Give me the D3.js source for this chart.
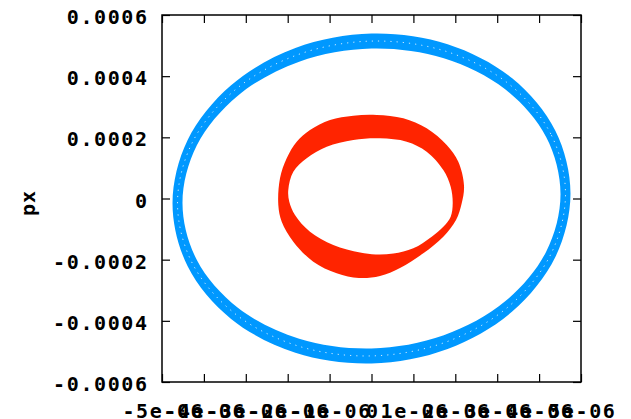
<!DOCTYPE html>
<html>
<head>
<meta charset="utf-8">
<script src="https://cdn.jsdelivr.net/npm/d3@7"></script>
<style>
  html, body { margin: 0; padding: 0; background: #ffffff; }
  svg { display: block; }
  text { font-family: "DejaVu Sans Mono", "Liberation Mono", monospace; font-weight: bold; font-size: 20px; fill: #000; }
</style>
</head>
<body>
<svg id="chart" width="631" height="419"></svg>
<script>
// ---- data (x, px) ----
const xTicks = [-5e-6, -4e-6, -3e-6, -2e-6, -1e-6, 0, 1e-6, 2e-6, 3e-6, 4e-6, 5e-6];
const xTickLabels = ["-5e-06", "-4e-06", "-3e-06", "-2e-06", "-1e-06", "0", "1e-06", "2e-06", "3e-06", "4e-06", "5e-06"];
const yTicks = [-0.0006, -0.0004, -0.0002, 0, 0.0002, 0.0004, 0.0006];
const yTickLabels = ["-0.0006", "-0.0004", "-0.0002", "0", "0.0002", "0.0004", "0.0006"];
const yLabel = "px";

// outer / inner edges of the blue (large amplitude) band
const blueOuter = [
  [4.749e-6, 0.162e-4], [4.388e-6, 2.214e-4], [3.358e-6, 3.928e-4], [1.817e-6, 5.044e-4],
  [0, 5.392e-4], [-1.817e-6, 4.920e-4], [-3.358e-6, 3.698e-4], [-4.388e-6, 1.914e-4],
  [-4.749e-6, -0.162e-4], [-4.388e-6, -2.214e-4], [-3.358e-6, -3.928e-4], [-1.817e-6, -5.044e-4],
  [0, -5.392e-4], [1.817e-6, -4.920e-4], [3.358e-6, -3.698e-4], [4.388e-6, -1.914e-4]
];
const blueInner = [
  [4.511e-6, 0.147e-4], [4.168e-6, 2.012e-4], [3.190e-6, 3.571e-4], [1.726e-6, 4.585e-4],
  [0, 4.902e-4], [-1.726e-6, 4.472e-4], [-3.190e-6, 3.362e-4], [-4.168e-6, 1.740e-4],
  [-4.511e-6, -0.147e-4], [-4.168e-6, -2.012e-4], [-3.190e-6, -3.571e-4], [-1.726e-6, -4.585e-4],
  [0, -4.902e-4], [1.726e-6, -4.472e-4], [3.190e-6, -3.362e-4], [4.168e-6, -1.740e-4]
];
// outer / inner edges of the red (small amplitude) band
const redOuter = [
  [-2.224e-6, -0.213e-4], [-2.184e-6, 0.660e-4], [-2.024e-6, 1.314e-4], [-1.785e-6, 1.857e-4],
  [-1.468e-6, 2.240e-4], [-0.990e-6, 2.567e-4], [-0.434e-6, 2.707e-4], [0.124e-6, 2.730e-4],
  [0.759e-6, 2.622e-4], [1.317e-6, 2.295e-4], [1.795e-6, 1.749e-4], [2.072e-6, 1.203e-4],
  [2.208e-6, 0.420e-4], [2.153e-6, -0.157e-4], [2.017e-6, -0.703e-4], [1.714e-6, -1.249e-4],
  [1.236e-6, -1.792e-4], [0.680e-6, -2.272e-4], [0.203e-6, -2.534e-4], [-0.300e-6, -2.600e-4],
  [-0.831e-6, -2.446e-4], [-1.389e-6, -2.066e-4], [-1.866e-6, -1.412e-4], [-2.143e-6, -0.759e-4]
];
const redInner = [
  [-1.986e-6, 0.278e-4], [-1.866e-6, 0.876e-4], [-1.547e-6, 1.314e-4], [-1.069e-6, 1.694e-4],
  [-0.434e-6, 1.913e-4], [0.203e-6, 1.968e-4], [0.840e-6, 1.857e-4], [1.317e-6, 1.530e-4],
  [1.714e-6, 0.932e-4], [1.890e-6, 0.386e-4], [1.938e-6, -0.157e-4], [1.890e-6, -0.595e-4],
  [1.714e-6, -0.922e-4], [1.437e-6, -1.249e-4], [0.998e-6, -1.628e-4], [0.523e-6, -1.800e-4],
  [0.100e-6, -1.830e-4], [-0.274e-6, -1.766e-4], [-0.912e-6, -1.520e-4], [-1.468e-6, -1.086e-4],
  [-1.826e-6, -0.539e-4], [-1.962e-6, -0.105e-4]
];
const bands = [
  { name: "orbit 1", outer: blueOuter, inner: blueInner, color: "#0098ff" },
  { name: "orbit 2", outer: redOuter, inner: redInner, color: "#ff2400" }
];

// ---- layout ----
const plot = { left: 162, right: 581, top: 15, bottom: 382 };
const svg = d3.select("#chart");

const x = d3.scaleLinear().domain([-5e-6, 5e-6]).range([plot.left, plot.right]);
const y = d3.scaleLinear().domain([-0.0006, 0.0006]).range([plot.bottom, plot.top]);

const line = d3.line().x(d => x(d[0])).y(d => y(d[1])).curve(d3.curveCatmullRomClosed.alpha(0.5));

// bands
svg.append("g").selectAll("path").data(bands).join("path")
  .attr("d", d => line(d.outer) + line(d.inner))
  .attr("fill", d => d.color)
  .attr("fill-rule", "evenodd")
  .attr("stroke", "none");

// faint gaps between the individual turns inside the blue band
const blueMid = blueOuter.map((p, i) => [(p[0] + blueInner[i][0]) / 2, (p[1] + blueInner[i][1]) / 2]);
svg.append("path")
  .attr("d", line(blueMid))
  .attr("fill", "none")
  .attr("stroke", "#ffffff")
  .attr("stroke-width", 1)
  .attr("stroke-opacity", 0.8)
  .attr("stroke-dasharray", "1.2 5");

// axes (ticks pointing inward, mirrored on all sides)
const tick = 8;
const gB = svg.append("g").attr("transform", `translate(0,${plot.bottom})`)
  .call(d3.axisBottom(x).tickValues(xTicks).tickSizeInner(-tick).tickSizeOuter(0)
    .tickPadding(0).tickFormat((d, i) => xTickLabels[i]));
const gT = svg.append("g").attr("transform", `translate(0,${plot.top})`)
  .call(d3.axisTop(x).tickValues(xTicks).tickSizeInner(-tick).tickSizeOuter(0).tickFormat(""));
const gL = svg.append("g").attr("transform", `translate(${plot.left},0)`)
  .call(d3.axisLeft(y).tickValues(yTicks).tickSizeInner(-tick).tickSizeOuter(0)
    .tickPadding(0).tickFormat((d, i) => yTickLabels[i]));
const gR = svg.append("g").attr("transform", `translate(${plot.right},0)`)
  .call(d3.axisRight(y).tickValues(yTicks).tickSizeInner(-tick).tickSizeOuter(0).tickFormat(""));

[gB, gT, gL, gR].forEach(g => {
  g.select(".domain").remove();
  g.selectAll(".tick line").attr("stroke", "#000").attr("stroke-width", 1.2);
  g.attr("font-family", null).attr("font-size", null);
});

gB.selectAll(".tick text")
  .attr("y", 0).attr("dy", null)
  .attr("transform", `translate(0,${417.5 - plot.bottom})`)
  .attr("text-anchor", "middle")
  .style("letter-spacing", "1.6px")
  .attr("dx", "0.8px")
  .attr("fill", "#000");

gL.selectAll(".tick text")
  .attr("x", 147 - plot.left + 1.6).attr("dy", null).attr("y", 8.5)
  .attr("text-anchor", "end")
  .style("letter-spacing", "1.6px")
  .attr("fill", "#000");

// frame
svg.append("rect")
  .attr("x", plot.left).attr("y", plot.top)
  .attr("width", plot.right - plot.left).attr("height", plot.bottom - plot.top)
  .attr("fill", "none").attr("stroke", "#000").attr("stroke-width", 1.5);

// y label
svg.append("text")
  .attr("transform", `translate(35,203) rotate(-90)`)
  .attr("text-anchor", "middle")
  .style("letter-spacing", "1px")
  .text(yLabel);
</script>
</body>
</html>
